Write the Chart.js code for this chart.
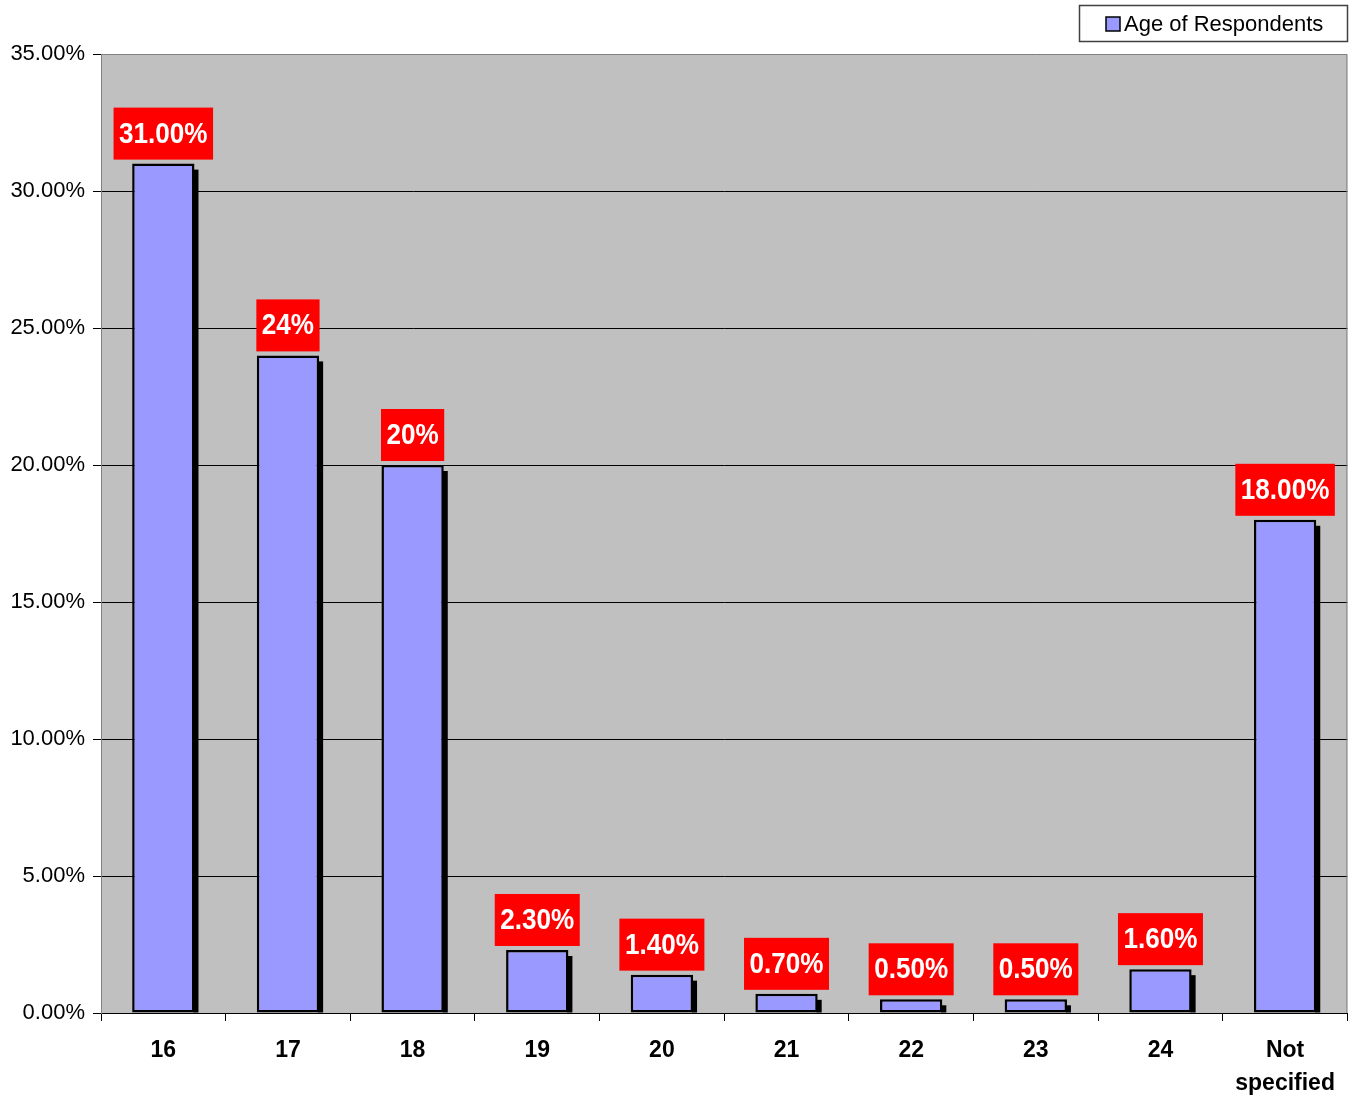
<!DOCTYPE html>
<html>
<head>
<meta charset="utf-8">
<title>Age of Respondents</title>
<script src="https://cdn.jsdelivr.net/npm/chart.js@4.4.1/dist/chart.umd.min.js"></script>
<style>
  html, body { margin: 0; padding: 0; background: #fff; }
  canvas { display: block; }
</style>
</head>
<body>
<canvas id="chart" width="1349" height="1097"></canvas>
<script>
// Chart data
const categories = ['16', '17', '18', '19', '20', '21', '22', '23', '24', ['Not', 'specified']];
const shares = [31, 24, 20, 2.3, 1.4, 0.7, 0.5, 0.5, 1.6, 18];
const shareLabels = ['31.00%', '24%', '20%', '2.30%', '1.40%', '0.70%', '0.50%', '0.50%', '1.60%', '18.00%'];
const seriesName = 'Age of Respondents';

const FONT = '"Liberation Sans", Arial, sans-serif';
const BAR_COLOR = '#9999FF';

// Grey plot background, plot border, offset bar shadows, red value boxes, legend
const plotDecor = {
  id: 'plotDecor',
  beforeDraw(chart) {
    const { ctx, chartArea: a } = chart;
    ctx.save();
    ctx.fillStyle = '#fff';
    ctx.fillRect(0, 0, chart.width, chart.height);
    ctx.fillStyle = '#C0C0C0';
    ctx.fillRect(a.left, a.top, a.right - a.left, a.bottom - a.top);
    ctx.restore();
  },
  beforeDatasetsDraw(chart) {
    const { ctx, chartArea: a } = chart;
    ctx.save();
    ctx.strokeStyle = '#808080';
    ctx.lineWidth = 1;
    ctx.beginPath();
    ctx.moveTo(a.left + 0.5, a.bottom);
    ctx.lineTo(a.left + 0.5, a.top + 0.5);
    ctx.lineTo(a.right - 0.5, a.top + 0.5);
    ctx.lineTo(a.right - 0.5, a.bottom);
    ctx.stroke();
    // shadows
    ctx.fillStyle = '#000';
    chart.getDatasetMeta(0).data.forEach(bar => {
      const right = bar.x + bar.width / 2;
      ctx.fillRect(right - 1, bar.y + 6, 5, bar.base - bar.y - 6);
    });
    ctx.restore();
  },
  afterDatasetsDraw(chart) {
    const { ctx } = chart;
    ctx.save();
    ctx.font = 'bold 29px ' + FONT;
    ctx.textAlign = 'center';
    ctx.textBaseline = 'middle';
    const sx = 0.9;
    chart.getDatasetMeta(0).data.forEach((bar, i) => {
      const txt = shareLabels[i];
      const w = ctx.measureText(txt).width * sx + 11;
      const h = 52;
      const bottom = bar.y - 4;
      ctx.fillStyle = '#FF0000';
      ctx.fillRect(bar.x - w / 2, bottom - h, w, h);
      ctx.fillStyle = '#fff';
      ctx.save();
      ctx.translate(bar.x, bottom - h / 2 + 1);
      ctx.scale(sx, 1);
      ctx.fillText(txt, 0, 0);
      ctx.restore();
    });
    ctx.restore();
  },
  afterDraw(chart) {
    // legend box in the top right corner
    const { ctx } = chart;
    ctx.save();
    ctx.fillStyle = '#fff';
    ctx.fillRect(1079, 5, 269, 37);
    ctx.strokeStyle = '#404040';
    ctx.lineWidth = 1.5;
    ctx.strokeRect(1079.5, 5.5, 268, 36);
    ctx.fillStyle = BAR_COLOR;
    ctx.fillRect(1106, 17, 14, 14);
    ctx.strokeStyle = '#000';
    ctx.lineWidth = 1.5;
    ctx.strokeRect(1106, 17, 14, 14);
    ctx.fillStyle = '#000';
    ctx.font = '22px ' + FONT;
    ctx.textAlign = 'left';
    ctx.textBaseline = 'middle';
    ctx.fillText(seriesName, 1124, 25);
    ctx.restore();
  }
};

new Chart(document.getElementById('chart'), {
  type: 'bar',
  data: {
    labels: categories,
    datasets: [{
      label: seriesName,
      data: shares,
      backgroundColor: BAR_COLOR,
      borderColor: '#000',
      borderWidth: 2.5,
      borderSkipped: false,
      barPercentage: 0.5,
      categoryPercentage: 1
    }]
  },
  options: {
    responsive: false,
    animation: false,
    layout: { padding: { top: 54, right: 1, left: 0, bottom: 0 } },
    plugins: {
      legend: { display: false },
      tooltip: { enabled: false }
    },
    scales: {
      x: {
        offset: true,
        grid: { display: true, drawOnChartArea: false, offset: true, tickLength: 8, color: '#000' },
        border: { display: true, color: '#000', width: 1 },
        ticks: {
          color: '#000',
          font: { family: FONT, size: 23, weight: 'bold', lineHeight: 1.4 },
          padding: 14,
          maxRotation: 0,
          autoSkip: false
        },
        afterFit(scale) { scale.height = 84; }
      },
      y: {
        min: 0,
        max: 35,
        grid: {
          color: ctx => (ctx.tick && ctx.tick.value === 35) ? 'rgba(0,0,0,0)' : '#000',
          tickColor: '#000',
          tickLength: 8,
          lineWidth: 1
        },
        border: { display: true, color: '#808080' },
        ticks: {
          stepSize: 5,
          color: '#000',
          padding: 8,
          font: { family: FONT, size: 22 },
          callback: v => v.toFixed(2) + '%'
        },
        afterFit(scale) { scale.width = 101; }
      }
    }
  },
  plugins: [plotDecor]
});
</script>
</body>
</html>
